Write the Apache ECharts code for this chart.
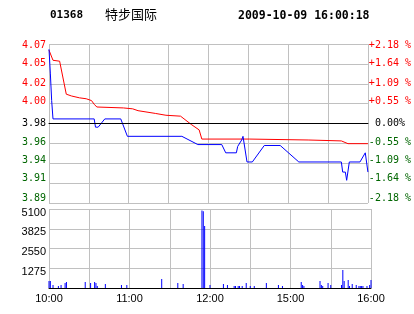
<!DOCTYPE html>
<html>
<head>
<meta charset="utf-8">
<script src="https://cdn.jsdelivr.net/npm/echarts@6/dist/echarts.min.js"></script>
<style>
html,body{margin:0;padding:0;background:#fff;}
#c{width:414px;height:314px;}
</style>
</head>
<body>
<div id="c"></div>
<script>
// ---- data ----
const stockCode = '01368';
const stockName = '特步国际';
const timestamp = '2009-10-09 16:00:18';
const prevClose = 3.98;
const pctMax = 2.18;
const priceLabels = ['4.07','4.05','4.02','4.00','3.98','3.96','3.94','3.91','3.89'];
const pctLabels = ['+2.18 %','+1.64 %','+1.09 %','+0.55 %','0.00%','-0.55 %','-1.09 %','-1.64 %','-2.18 %'];
const tickTimes = ['10:00','11:00','12:00','15:00','16:00'];
const volLabels = ['','1275','2550','3825','5100'];
const volMax = 5100;

const priceTimes = ['10:00','10:01','10:02','10:03','10:34','10:35','10:37','10:42','10:54','10:59','11:40','11:52','12:10','12:13','12:21','12:22','12:25','12:26','12:29','14:33','14:42','14:54','15:08','15:40','15:41','15:43','15:44','15:46','15:54','15:58','16:00'];
const priceValues = [4.061,4.035,4.005,3.985,3.985,3.976,3.976,3.985,3.985,3.966,3.966,3.957,3.957,3.948,3.948,3.955,3.962,3.966,3.938,3.938,3.956,3.956,3.938,3.938,3.927,3.927,3.918,3.938,3.938,3.948,3.927];

const avgTimes = ['10:00','10:03','10:08','10:13','10:17','10:23','10:28','10:32','10:34','10:36','10:37','10:56','10:57','11:03','11:07','11:20','11:28','11:39','11:47','11:53','11:55','14:31','14:32','15:15','15:16','15:40','15:45','16:00'];
const avgValues = [4.060,4.049,4.048,4.012,4.010,4.008,4.007,4.005,4.001,3.998,3.997,3.997,3.996,3.996,3.994,3.991,3.989,3.988,3.979,3.973,3.963,3.963,3.962,3.962,3.961,3.961,3.958,3.958];

const volTimes = ['10:00','10:01','10:03','10:07','10:09','10:12','10:13','10:27','10:31','10:34','10:35','10:36','10:42','10:54','10:58','11:24','11:36','11:40','11:54','11:55','11:56','12:00','12:10','12:13','12:18','12:19','12:21','12:22','12:24','12:27','12:30','14:33','14:42','14:51','14:54','15:08','15:09','15:10','15:22','15:23','15:24','15:28','15:30','15:38','15:39','15:40','15:43','15:44','15:46','15:49','15:51','15:52','15:53','15:54','15:57','15:59','16:00'];
const volValues = [450,450,200,130,200,320,390,390,320,390,320,130,260,200,200,580,320,260,5000,4950,4000,200,260,200,130,130,130,130,130,320,130,130,320,200,130,390,200,130,450,200,130,320,200,200,1160,450,520,130,260,200,130,130,130,130,130,200,520];

// ---- helpers ----
function toMin(t){
  const p = t.split(':').map(Number);
  const v = p[0]*60 + p[1];
  return v <= 750 ? v - 600 : v - 870 + 150;
}
function toPct(p){ return (p / prevClose - 1) * 100; }
const step = pctMax / 4;
function idxOf(v){ return Math.round((pctMax - v) / step); }

const monoFont = 'DejaVu Sans Mono';
// vertical nudge (px up) of each price-axis label, as in the original picture
const labelShift = [-1,0,0,2,0,1,3,5,5];
const richStyles = {};
for (let i = 0; i < 9; i++) {
  const s = labelShift[i];
  richStyles['s' + i] = {
    color: i < 4 ? '#ff0000' : (i === 4 ? '#000000' : '#006600'),
    fontFamily: monoFont, fontSize: 10,
    padding: s >= 0 ? [0,0,2*s,0] : [-2*s,0,0,0]
  };
}
const tickMap = {};
tickTimes.forEach(t => { tickMap[toMin(t)] = t; });

const grey = '#c0c0c0';

const chart = echarts.init(document.getElementById('c'), null, {renderer:'canvas'});
chart.setOption({
  backgroundColor:'#ffffff',
  animation:false,
  graphic:[
    {type:'text', left:50, top:10, style:{text:stockCode, font:'bold 11px "DejaVu Sans Mono"', fill:'#000'}},
    {type:'text', left:105, top:8, style:{text:stockName, font:'13px "Noto Sans CJK SC"', fill:'#000'}},
    {type:'text', left:238, top:10, style:{text:timestamp, font:'bold 11.5px "DejaVu Sans Mono"', fill:'#000'}}
  ],
  grid:[
    {left:49, top:44, width:322, height:159},
    {left:49, top:209, width:322, height:79}
  ],
  xAxis:[
    {type:'value', gridIndex:0, min:0, max:240, interval:30,
     axisLabel:{show:false}, axisTick:{show:false},
     axisLine:{show:true, lineStyle:{color:'#000', width:1}},
     splitLine:{show:true, lineStyle:{color:grey, width:1}}},
    {type:'value', gridIndex:1, min:0, max:240, interval:30,
     axisTick:{show:false},
     axisLine:{show:true, lineStyle:{color:'#000', width:1}},
     splitLine:{show:true, lineStyle:{color:grey, width:1}},
     axisLabel:{show:true, margin:5, color:'#000', fontFamily:'Liberation Sans', fontSize:11,
       formatter:function(v){ return tickMap[v] || ''; }}}
  ],
  yAxis:[
    {type:'value', gridIndex:0, min:-pctMax, max:pctMax, interval:step, position:'left',
     axisLine:{show:false}, axisTick:{show:false},
     splitLine:{show:true, lineStyle:{color:grey, width:1}},
     axisLabel:{margin:3, rich:richStyles,
       formatter:function(v){ const i = idxOf(v); return '{s' + i + '|' + priceLabels[i] + '}'; }}},
    {type:'value', gridIndex:0, min:-pctMax, max:pctMax, interval:step, position:'right',
     axisLine:{show:false}, axisTick:{show:false}, splitLine:{show:false},
     axisLabel:{margin:22, align:'center', rich:richStyles,
       formatter:function(v){ const i = idxOf(v); return '{s' + i + '|' + pctLabels[i] + '}'; }}},
    {type:'value', gridIndex:1, min:0, max:volMax, interval:volMax/4, position:'left',
     axisLine:{show:false}, axisTick:{show:false},
     splitLine:{show:true, lineStyle:{color:grey, width:1}},
     axisLabel:{margin:3,
       rich:{v:{color:'#000', fontFamily:'Liberation Sans', fontSize:11, padding:[7,0,0,0]}},
       formatter:function(v){ const l = volLabels[Math.round(v / (volMax/4))]; return l ? '{v|' + l + '}' : ''; }}}
  ],
  series:[
    {type:'line', xAxisIndex:0, yAxisIndex:0, symbol:'none', silent:true,
     lineStyle:{color:'#ff0000', width:1},
     data: avgTimes.map((t,i) => [toMin(t), toPct(avgValues[i])]),
     markLine:{silent:true, symbol:'none', label:{show:false},
       lineStyle:{color:'#000', width:1, type:'solid'},
       data:[{yAxis:0}]}},
    {type:'line', xAxisIndex:0, yAxisIndex:0, symbol:'none', silent:true,
     lineStyle:{color:'#0000ff', width:1},
     data: priceTimes.map((t,i) => [toMin(t), toPct(priceValues[i])])},
    {type:'bar', xAxisIndex:1, yAxisIndex:2, barWidth:1, silent:true,
     itemStyle:{color:'#0000ff'},
     data: volTimes.map((t,i) => [toMin(t), volValues[i]])}
  ]
});
</script>
</body>
</html>
